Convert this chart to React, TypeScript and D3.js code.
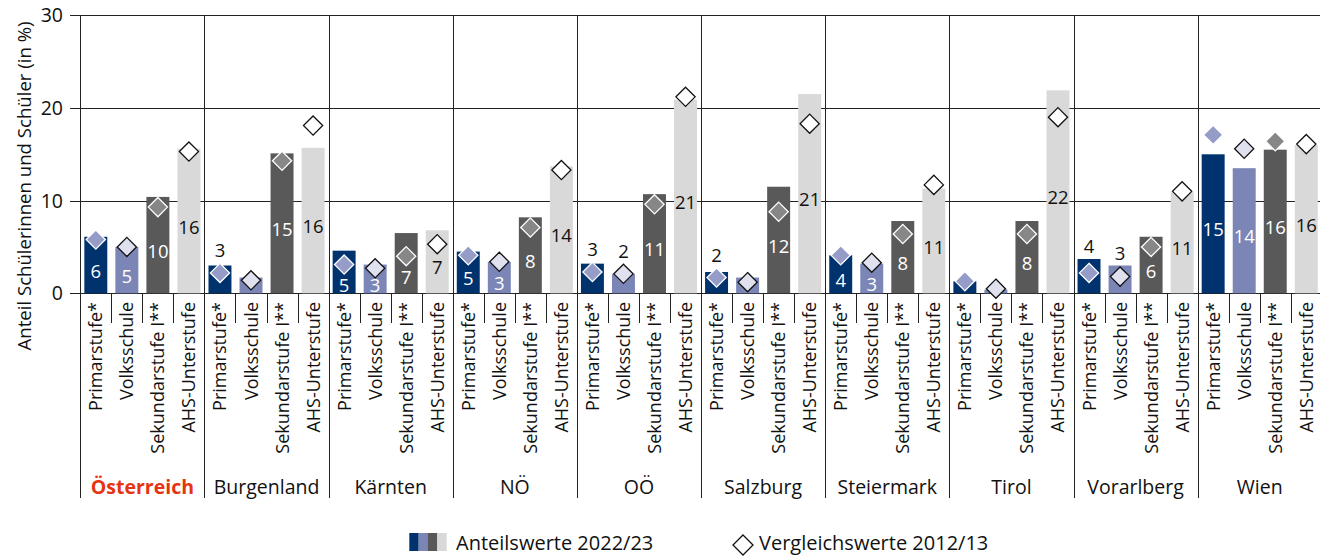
import React from "react";
import * as d3 from "d3";

const groups = ["Österreich", "Burgenland", "Kärnten", "NÖ", "OÖ", "Salzburg", "Steiermark", "Tirol", "Vorarlberg", "Wien"];
const categories = ["Primarstufe*", "Volksschule", "Sekundarstufe I**", "AHS-Unterstufe"];
const yTicks = [0, 10, 20, 30];

// Anteilswerte 2022/23
const primar2022 = [6.1, 3.0, 4.6, 4.5, 3.2, 2.3, 4.1, 1.3, 3.7, 15.0];
const volks2022 = [5.0, 1.7, 3.1, 3.4, 2.1, 1.7, 3.2, 0.4, 3.0, 13.5];
const sek2022 = [10.4, 15.1, 6.5, 8.2, 10.7, 11.5, 7.8, 7.8, 6.1, 15.5];
const ahs2022 = [15.6, 15.7, 6.8, 13.7, 20.9, 21.5, 11.3, 21.9, 10.9, 16.0];

// Vergleichswerte 2012/13
const primar2012 = [5.8, 2.2, 3.1, 4.1, 2.3, 1.7, 4.1, 1.3, 2.2, 17.1];
const volks2012 = [5.0, 1.4, 2.7, 3.4, 2.1, 1.2, 3.3, 0.5, 1.8, 15.6];
const sek2012 = [9.3, 14.3, 4.0, 7.1, 9.6, 8.8, 6.4, 6.4, 5.0, 16.4];
const ahs2012 = [15.3, 18.1, 5.3, 13.3, 21.2, 18.3, 11.7, 19.0, 11.0, 16.1];

// Data labels (rounded values as printed)
const primarLabels = ["6", "3", "5", "5", "3", "2", "4", null, "4", "15"];
const volksLabels = ["5", null, "3", "3", "2", null, "3", null, "3", "14"];
const sekLabels = ["10", "15", "7", "8", "11", "12", "8", "8", "6", "16"];
const ahsLabels = ["16", "16", "7", "14", "21", "21", "11", "22", "11", "16"];

// labels printed above the bar
const primarLabelAbove = [false, true, false, false, true, true, false, false, true, false];
const volksLabelAbove = [false, false, false, false, true, false, false, false, true, false];

const values2022 = [primar2022, volks2022, sek2022, ahs2022];
const values2012 = [primar2012, volks2012, sek2012, ahs2012];
const labels = [primarLabels, volksLabels, sekLabels, ahsLabels];
const labelAbove = [primarLabelAbove, volksLabelAbove, null, null];

const barColors = ["#00336e", "#7b86b6", "#595959", "#d9d9d9"];
const labelColors = ["#ffffff", "#ffffff", "#ffffff", "#111111"];
const diamondFill = ["#959cc7", "#e0e1ef", "#878787", "#ffffff"];
const diamondStroke = ["#ffffff", "#111111", "#ffffff", "#111111"];

const FONT = "'Open Sans', 'Noto Sans', sans-serif";

export default function App() {
  const W = 1320;
  const H = 556;
  const left = 80.3;
  const groupW = 124.15;
  const y0 = 293.3;
  const yTop = 15.3;
  const bottomLine = 498;

  const xg = d3.scaleBand<string>().domain(groups).range([left, left + groupW * groups.length]).padding(0);
  const xc = d3.scaleBand<string>().domain(categories).range([0, groupW]).paddingInner(0.26).paddingOuter(0.13);
  const y = d3.scaleLinear().domain([0, 30]).range([y0, yTop]);
  const step = xc.step();
  const bw = xc.bandwidth();
  const dh = 9.6;

  const diamond = (cx: number, cy: number, r: number) =>
    `M${cx},${cy - r}L${cx + r},${cy}L${cx},${cy + r}L${cx - r},${cy}Z`;

  const crisp = (v: number) => Math.round(v) + 0.5;

  return (
    <svg width={W} height={H} style={{ position: "absolute", left: 0, top: 0, fontFamily: FONT }}>
      <rect x={0} y={0} width={W} height={H} fill="#fff" />
      {/* horizontal gridlines */}
      {yTicks.map((t) => (
        <line key={"g" + t} x1={70} x2={W} y1={crisp(y(t))} y2={crisp(y(t))} stroke="#222" strokeWidth={1} />
      ))}
      {yTicks.map((t) => (
        <text key={"t" + t} x={63} y={y(t)} dy="0.36em" textAnchor="end" fontSize={19.5} fill="#111">
          {t}
        </text>
      ))}
      {/* y title */}
      <text
        transform={`translate(31, ${186}) rotate(-90)`}
        textAnchor="middle"
        fontSize={18.6}
        fill="#111"
      >
        Anteil Schülerinnen und Schüler (in %)
      </text>

      {/* bars */}
      {groups.map((g, gi) =>
        categories.map((c, ci) => {
          const v = values2022[ci][gi];
          const x = (xg(g) as number) + (xc(c) as number);
          return <rect key={`b${gi}-${ci}`} x={x} y={y(v)} width={bw} height={y(0) - y(v)} fill={barColors[ci]} />;
        })
      )}

      {/* group separators and axis */}
      {groups.map((g, gi) => (
        <line key={"sep" + gi} x1={crisp(xg(g) as number)} x2={crisp(xg(g) as number)} y1={yTop} y2={bottomLine} stroke="#222" />
      ))}
      {/* category ticks */}
      {groups.map((g, gi) =>
        [1, 2, 3].map((k) => {
          const x = crisp((xg(g) as number) + k * step);
          return <line key={`tk${gi}-${k}`} x1={x} x2={x} y1={y0} y2={323} stroke="#222" />;
        })
      )}

      {/* diamonds 2012/13 */}
      {groups.map((g, gi) =>
        categories.map((c, ci) => {
          const v = values2012[ci][gi];
          const cx = (xg(g) as number) + (xc(c) as number) + bw / 2;
          return (
            <path
              key={`d${gi}-${ci}`}
              d={diamond(cx, y(v), dh)}
              fill={diamondFill[ci]}
              stroke={diamondStroke[ci]}
              strokeWidth={1.3}
            />
          );
        })
      )}

      {/* data labels */}
      {groups.map((g, gi) =>
        categories.map((c, ci) => {
          const lab = labels[ci][gi];
          if (lab === null) return null;
          const cx = (xg(g) as number) + (xc(c) as number) + bw / 2;
          const top = y(values2022[ci][gi]);
          const dy = y(values2012[ci][gi]);
          const above = labelAbove[ci] ? labelAbove[ci]![gi] : false;
          let cy: number;
          let col: string;
          if (above) {
            cy = Math.min(top, dy - 10) - 12.5;
            col = "#111";
          } else {
            cy = Math.min(Math.max((top + y0) / 2 + 6, dy + 21), 285.5);
            col = labelColors[ci];
          }
          return (
            <text key={`l${gi}-${ci}`} x={cx} y={cy} dy="0.36em" textAnchor="middle" fontSize={18.5} fill={col}>
              {lab}
            </text>
          );
        })
      )}

      {/* category labels */}
      {groups.map((g, gi) =>
        categories.map((c, ci) => {
          const cx = (xg(g) as number) + (xc(c) as number) + bw / 2;
          return (
            <text
              key={`cl${gi}-${ci}`}
              transform={`translate(${cx + 6.5}, 302) rotate(-90)`}
              textAnchor="end"
              fontSize={18}
              fill="#111"
            >
              {c}
            </text>
          );
        })
      )}

      {/* group labels */}
      {groups.map((g, gi) => (
        <text
          key={`gl${gi}`}
          x={(xg(g) as number) + groupW / 2}
          y={494}
          textAnchor="middle"
          fontSize={19.5}
          fontWeight={gi === 0 ? 700 : 400}
          fill={gi === 0 ? "#e63312" : "#111"}
        >
          {g}
        </text>
      ))}

      {/* legend */}
      {barColors.map((col, i) => (
        <rect key={"lg" + i} x={409.3 + i * 9.33} y={533} width={9.4} height={18} fill={col} />
      ))}
      <text x={456} y={550} fontSize={20} fill="#111">
        Anteilswerte 2022/23
      </text>
      <path d={diamond(743, 545, 10)} fill="#fff" stroke="#111" strokeWidth={1.3} />
      <text x={759} y={550} fontSize={20} fill="#111">
        Vergleichswerte 2012/13
      </text>
    </svg>
  );
}
